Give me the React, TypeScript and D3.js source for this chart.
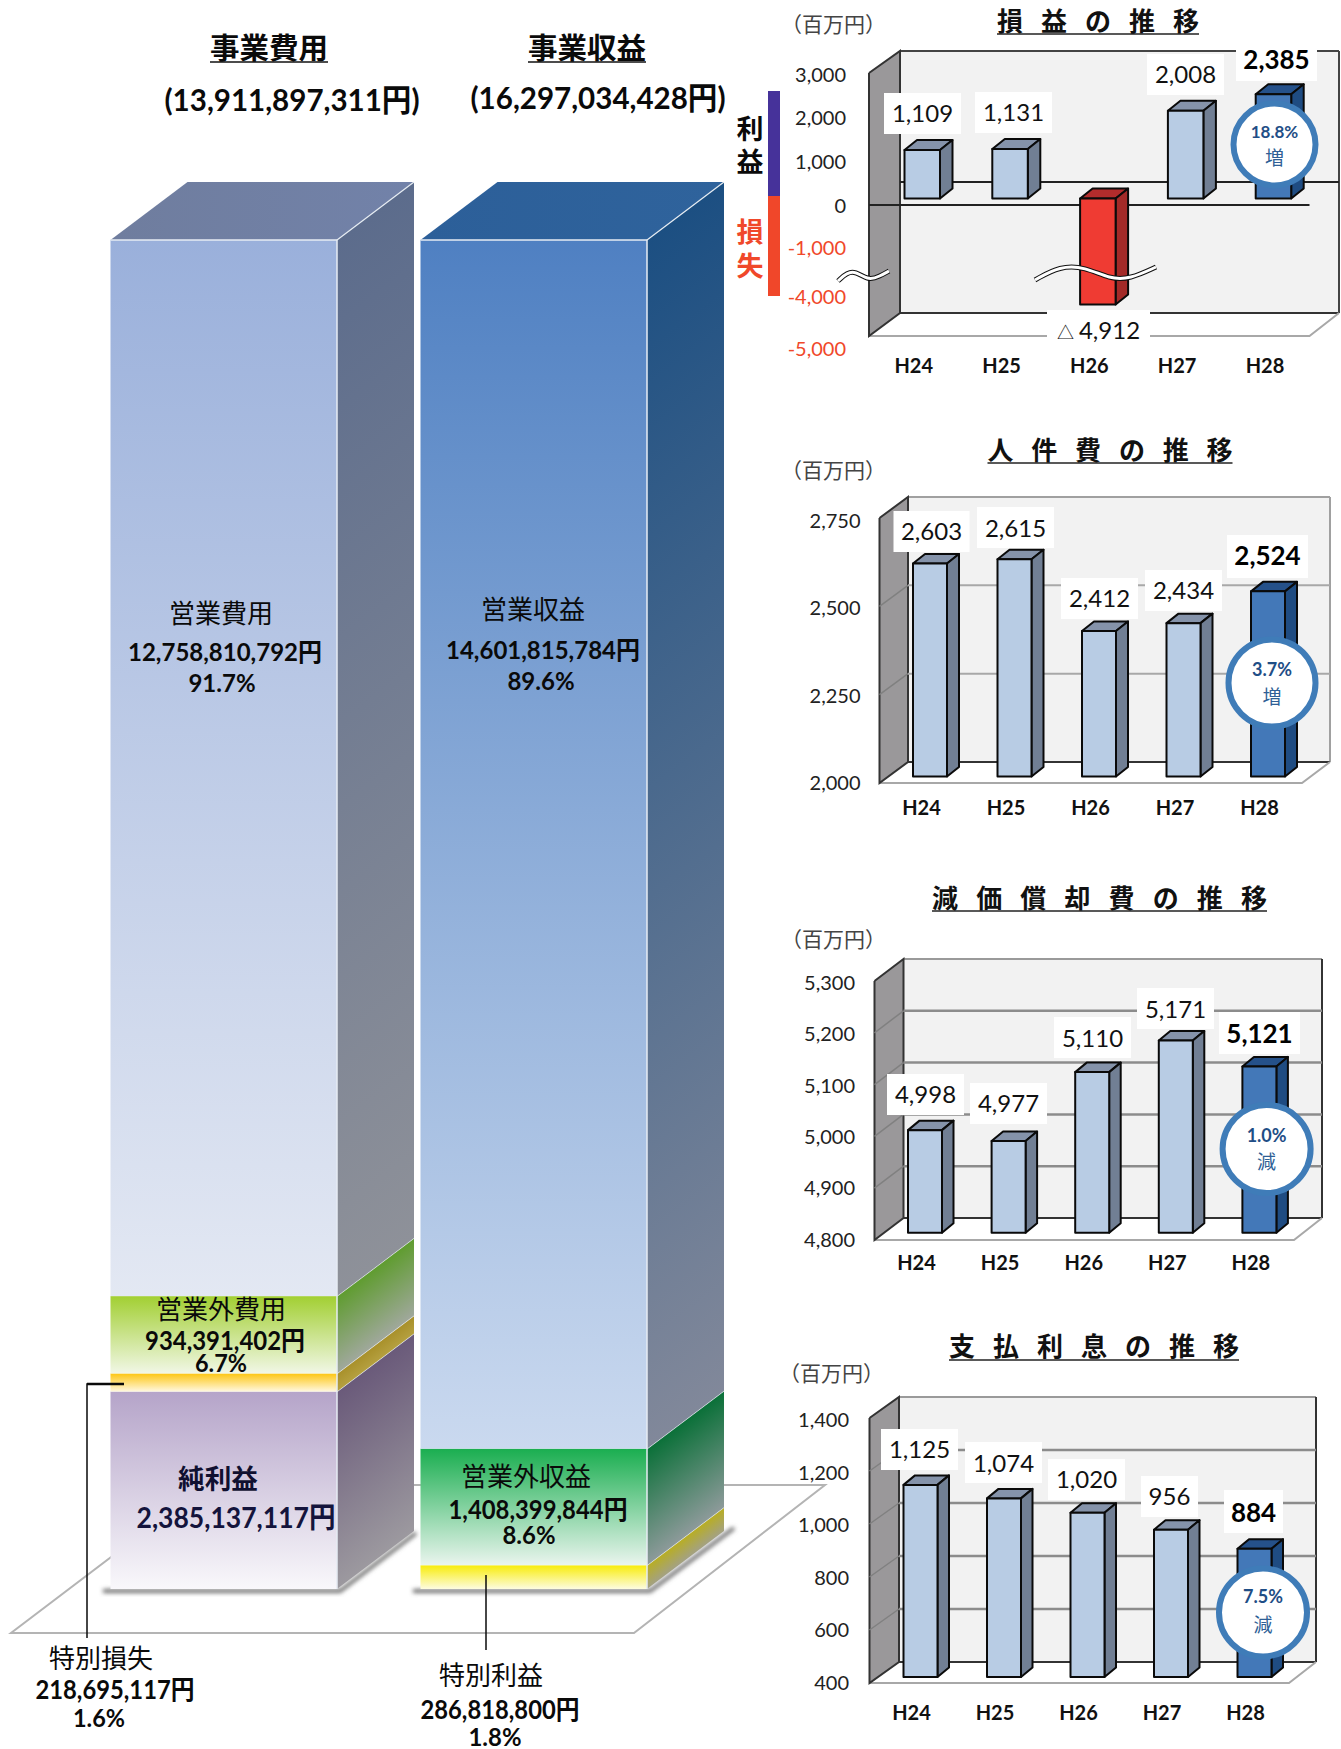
import React from "react";
import * as d3 from "d3";

// ---------- data ----------
const years = ["H24", "H25", "H26", "H27", "H28"];
const profitValues = [1109, 1131, -4912, 2008, 2385];
const personnelValues = [2603, 2615, 2412, 2434, 2524];
const depreciationValues = [4998, 4977, 5110, 5171, 5121];
const interestValues = [1125, 1074, 1020, 956, 884];
const profitTicks = [3000, 2000, 1000, 0, -1000, -4000, -5000];
const personnelTicks = [2750, 2500, 2250, 2000];
const depreciationTicks = [5300, 5200, 5100, 5000, 4900, 4800];
const interestTicks = [1400, 1200, 1000, 800, 600, 400];

const columnTotal = 16297034428;
const expenseSegments = [
  { name: "純利益", value: 2385137117, share: "" },
  { name: "特別損失", value: 218695117, share: "1.6%" },
  { name: "営業外費用", value: 934391402, share: "6.7%" },
  { name: "営業費用", value: 12758810792, share: "91.7%" },
];
const revenueSegments = [
  { name: "特別利益", value: 286818800, share: "1.8%" },
  { name: "営業外収益", value: 1408399844, share: "8.6%" },
  { name: "営業収益", value: 14601815784, share: "89.6%" },
];

// ---------- styling / layout ----------
const LAT = 'Lato, "Noto Sans CJK JP", sans-serif';
const CJK = '"Noto Sans CJK JP", sans-serif';
const comma = (v: number) => d3.format(",")(v).replace("−", "-");
const yen = (v: number) => comma(v) + "円";

const expenseColors = [
  { f: ["#b5a4c9", "#f9f8fb"], s: ["#6a5a7a", "#9c999f"] },
  { f: ["#fdc613", "#fff8e0"], s: ["#a8902a", "#b5a040"] },
  { f: ["#a2cf32", "#f1f7e6"], s: ["#5f9c2f", "#a0a89c"] },
  { f: ["#9ab0db", "#e3e8f3"], s: ["#5c6c8c", "#8e9199"] },
];
const revenueColors = [
  { f: ["#f8ec0a", "#fdfce0"], s: ["#b8ae22", "#a3a184"] },
  { f: ["#1aae50", "#eaf5ee"], s: ["#0a7038", "#8d9a9a"] },
  { f: ["#4f80c2", "#cad9ef"], s: ["#1c4f82", "#81889a"] },
];

const colY = d3.scaleLinear().domain([0, columnTotal]).range([1589, 240]);
const DEPTH_X = 77;
const DEPTH_Y = 58;

type TextSpec = [string, number, number, number, number?, number?, string?];
// text, centre x, baseline, size, weight, textLength, colour
const columnTexts: TextSpec[] = [
  ["事業費用", 269, 59, 29, 700, 118],
  ["事業収益", 587, 59, 29, 700, 118],
  [`(${comma(13911897311)}円)`, 292, 111, 31, 700, 255],
  [`(${comma(columnTotal)}円)`, 598, 109, 31, 700, 255],
  [expenseSegments[3].name, 221, 623, 26, 400, 104],
  [yen(expenseSegments[3].value), 225, 661, 25, 700, 194],
  [expenseSegments[3].share, 222, 692, 24, 700],
  [revenueSegments[2].name, 533, 619, 26, 400, 104],
  [yen(revenueSegments[2].value), 543, 659, 25, 700, 194],
  [revenueSegments[2].share, 541, 690, 24, 700],
  [expenseSegments[2].name, 221, 1319, 26, 400, 130],
  [yen(expenseSegments[2].value), 225, 1350, 26, 700, 160],
  [expenseSegments[2].share, 221, 1372, 24, 700, 52],
  [expenseSegments[0].name, 218, 1489, 27, 700, 80, "#101030"],
  [yen(expenseSegments[0].value), 236, 1528, 29, 700, 199, "#14143c"],
  [revenueSegments[1].name, 526, 1486, 26, 400, 130],
  [yen(revenueSegments[1].value), 538, 1519, 26, 700, 179],
  [revenueSegments[1].share, 529, 1544, 24, 700, 53],
  [expenseSegments[1].name, 101, 1668, 26, 400, 104],
  [yen(expenseSegments[1].value), 115, 1699, 26, 700, 159],
  [expenseSegments[1].share, 99, 1727, 24, 700, 52],
  [revenueSegments[0].name, 491, 1685, 26, 400, 104],
  [yen(revenueSegments[0].value), 500, 1719, 26, 700, 159],
  [revenueSegments[0].share, 495, 1746, 24, 700, 53],
];

const panels = [
  {
    id: "p1",
    title: "損益の推移", titleX: 997, titleW: 202, titleB: 31, underlineY: 34,
    unitX: 781, unitB: 32,
    values: profitValues, ticks: profitTicks,
    wall: { xF: 869, xB: 900, xR: 1339, xFR: 1309.5, topF: 73, topB: 51, botF: 336, botB: 313 },
    // bars sit on the zero of a broken scale; ticks have their own spacing
    barDomain: [-5000, -4000, -1000, 0, 3000], barRange: [308.4, 264.7, 242.2, 198.5, 67.4],
    tickDomain: [-5000, -4000, -1000, 0, 1000, 2000, 3000], tickRange: [349, 297, 248, 206, 162, 118, 75],
    labelRange: [349, 297, 248, 206, 162, 118, 75],
    base: 0,
    grid: [] as number[],
    x0: 904.5, step: 87.8, w: 35.5, dx: 12.5, dy: 10, tickX: 846, catB: 373, catShift: -8.5,
    topStroke: "#444", rightStroke: "#444", gridStroke: "#444", gridW: 2,
    labels: [
      { x: 884, y: 93, w: 77, h: 41, b: 122 },
      { x: 975, y: 92, w: 77, h: 41, b: 121 },
      { x: 1047, y: 310, w: 103, h: 33, b: 339 },
      { x: 1147, y: 54, w: 77, h: 41, b: 83 },
      { x: 1236, y: 48, w: 81, h: 33, b: 69 },
    ],
    badge: { cx: 1274.5, cy: 144.5, r: 41, pct: "18.8%", word: "増", pctY: 132, wordY: 158, size: 17 },
  },
  {
    id: "p2",
    title: "人件費の推移", titleX: 987.5, titleW: 245, titleB: 460, underlineY: 463,
    unitX: 781, unitB: 478,
    values: personnelValues, ticks: personnelTicks,
    wall: { xF: 879.5, xB: 908, xR: 1330, xFR: 1302, topF: 518, topB: 497, botF: 783, botB: 762 },
    barDomain: [2000, 2750], barRange: [776.5, 511.5],
    tickDomain: [2000, 2750], tickRange: [783, 518],
    labelRange: [783, 520.5],
    base: 2000,
    grid: [2250, 2500],
    x0: 913, step: 84.5, w: 34, dx: 12, dy: 9.5, tickX: 860.5, catB: 815, catShift: -8.5,
    topStroke: "#a0a0a0", rightStroke: "#a0a0a0", gridStroke: "#a8a8a8", gridW: 2,
    labels: [
      { x: 893.5, y: 511, w: 76, h: 41, b: 540 },
      { x: 977, y: 507, w: 77, h: 41, b: 537 },
      { x: 1061, y: 578, w: 77, h: 41, b: 607 },
      { x: 1145, y: 570, w: 77, h: 41, b: 599 },
      { x: 1227, y: 535, w: 81, h: 43, b: 565 },
    ],
    badge: { cx: 1272, cy: 683, r: 43.5, pct: "3.7%", word: "増", pctY: 670, wordY: 697, size: 18 },
  },
  {
    id: "p3",
    title: "減価償却費の推移", titleX: 932, titleW: 335, titleB: 908, underlineY: 911,
    unitX: 781, unitB: 947,
    values: depreciationValues, ticks: depreciationTicks,
    wall: { xF: 874.5, xB: 903.5, xR: 1322, xFR: 1294, topF: 981, topB: 959, botF: 1240, botB: 1218 },
    barDomain: [4800, 5300], barRange: [1232.7, 973.7],
    tickDomain: [4800, 5300], tickRange: [1240, 981],
    labelRange: [1239.5, 983],
    base: 4800,
    grid: [4900, 5000, 5100, 5200],
    x0: 908, step: 83.6, w: 34, dx: 11.5, dy: 9.5, tickX: 855, catB: 1270, catShift: -8.5,
    topStroke: "#9a9a9a", rightStroke: "#333", gridStroke: "#8c8c8c", gridW: 2.5,
    labels: [
      { x: 887, y: 1074, w: 77, h: 41, b: 1103 },
      { x: 970, y: 1083, w: 77, h: 41, b: 1112 },
      { x: 1054, y: 1017, w: 77, h: 41, b: 1047 },
      { x: 1137, y: 988, w: 77, h: 41, b: 1018 },
      { x: 1219, y: 1012, w: 81, h: 42, b: 1043 },
    ],
    badge: { cx: 1266.6, cy: 1149, r: 44, pct: "1.0%", word: "減", pctY: 1136, wordY: 1162, size: 18 },
  },
  {
    id: "p4",
    title: "支払利息の推移", titleX: 949, titleW: 290, titleB: 1356, underlineY: 1360,
    unitX: 779, unitB: 1381,
    values: interestValues, ticks: interestTicks,
    wall: { xF: 869.5, xB: 899, xR: 1316, xFR: 1289, topF: 1418, topB: 1397, botF: 1683, botB: 1662 },
    barDomain: [400, 1400], barRange: [1677, 1412],
    tickDomain: [400, 1400], tickRange: [1683, 1418],
    labelRange: [1683, 1420],
    base: 400,
    grid: [600, 800, 1000, 1200],
    x0: 903.5, step: 83.5, w: 34, dx: 11.5, dy: 9.5, tickX: 849, catB: 1720, catShift: -9,
    topStroke: "#9a9a9a", rightStroke: "#333", gridStroke: "#8c8c8c", gridW: 2.5,
    labels: [
      { x: 881, y: 1429, w: 77, h: 41, b: 1458 },
      { x: 965, y: 1442, w: 77, h: 41, b: 1472 },
      { x: 1048, y: 1459, w: 77, h: 41, b: 1488 },
      { x: 1141, y: 1476, w: 57, h: 41, b: 1505 },
      { x: 1224, y: 1490, w: 59, h: 43, b: 1522 },
    ],
    badge: { cx: 1263, cy: 1612.5, r: 44, pct: "7.5%", word: "減", pctY: 1597, wordY: 1625, size: 18 },
  },
];

const poly = (pts: number[][]) => "M" + pts.map((p) => p.join(",")).join("L") + "Z";
const waveLine = d3.line<number[]>().curve(d3.curveBasis);

function Column({ id, x0, x1, segments, colors }: any) {
  let acc = 0;
  const parts = segments.map((s: any, i: number) => {
    const yBot = colY(acc);
    acc += s.value;
    const yTop = colY(acc);
    return { i, yBot, yTop, c: colors[i] };
  });
  const top = parts[parts.length - 1].yTop;
  return (
    <g>
      <defs>
        {parts.map((p: any) => {
          const h = p.yBot - p.yTop;
          return (
            <React.Fragment key={p.i}>
              <linearGradient id={`${id}f${p.i}`} x1="0" y1="0" x2="0" y2="1">
                <stop offset="0" stopColor={p.c.f[0]} />
                <stop offset="1" stopColor={p.c.f[1]} />
              </linearGradient>
              <linearGradient id={`${id}s${p.i}`} gradientUnits="userSpaceOnUse"
                x1={x1} y1={p.yTop} x2={x1 + 0.48 * h} y2={p.yTop + 0.64 * h}>
                <stop offset="0" stopColor={p.c.s[0]} />
                <stop offset="1" stopColor={p.c.s[1]} />
              </linearGradient>
            </React.Fragment>
          );
        })}
      </defs>
      <path d={poly([[x0, top], [x0 + DEPTH_X, top - DEPTH_Y], [x1 + DEPTH_X, top - DEPTH_Y], [x1, top]])}
        fill={`url(#${id}top)`} />
      {parts.map((p: any) => (
        <g key={p.i}>
          <rect x={x0} y={p.yTop} width={x1 - x0} height={p.yBot - p.yTop} fill={`url(#${id}f${p.i})`} />
          <path d={poly([[x1, p.yTop], [x1 + DEPTH_X, p.yTop - DEPTH_Y], [x1 + DEPTH_X, p.yBot - DEPTH_Y], [x1, p.yBot]])}
            fill={`url(#${id}s${p.i})`} />
          <line x1={x1} y1={p.yTop} x2={x1 + DEPTH_X} y2={p.yTop - DEPTH_Y} stroke="#e6ecf2" strokeWidth={1.2} />
        </g>
      ))}
      <path d={`M${x0},${top}L${x1},${top}L${x1},${colY(0)}`} fill="none" stroke="#e6ecf4" strokeWidth={1.5} />
    </g>
  );
}

function Panel({ p }: any) {
  const yBar = d3.scaleLinear().domain(p.barDomain).range(p.barRange);
  const yTick = d3.scaleLinear().domain(p.tickDomain).range(p.tickRange);
  const yLabel = d3.scaleLinear().domain(p.tickDomain).range(p.labelRange);
  const gap = p.step - p.w;
  const x = d3.scaleBand().domain(years)
    .range([p.x0 - gap / 2, p.x0 - gap / 2 + 5 * p.step])
    .paddingInner(gap / p.step).paddingOuter(gap / p.step / 2);
  const W = p.wall;
  const depthWallY = W.botF - W.botB;
  const fs = 26;
  const chars = Array.from(p.title as string);
  const pitch = (p.titleW - fs) / (chars.length - 1);
  const isProfit = p.id === "p1";
  return (
    <g>
      {/* title */}
      <text x={chars.map((_, i) => p.titleX + i * pitch).join(" ")} y={p.titleB} fontFamily={CJK} fontSize={fs} fontWeight={700} fill="#111">{p.title}</text>
      <line x1={p.titleX} x2={p.titleX + p.titleW} y1={p.underlineY} y2={p.underlineY} stroke="#222" strokeWidth={1.5} />
      <text x={p.unitX} y={p.unitB} fontFamily={CJK} fontSize={21} fill="#444">（百万円）</text>
      {/* back wall, floor, side wall */}
      <rect x={W.xB} y={W.topB} width={W.xR - W.xB} height={W.botB - W.topB} fill="#f2f2f2" />
      <path d={poly([[W.xF, W.botF], [W.xFR, W.botF], [W.xR, W.botB], [W.xB, W.botB]])} fill="#fff" />
      <line x1={W.xB} x2={W.xR} y1={W.topB} y2={W.topB} stroke={p.topStroke} strokeWidth={2} />
      <line x1={W.xR} x2={W.xR} y1={W.topB} y2={W.botB} stroke={p.rightStroke} strokeWidth={2} />
      <line x1={W.xB} x2={W.xR} y1={W.botB} y2={W.botB} stroke="#333" strokeWidth={2} />
      <path d={`M${W.xF},${W.botF}L${W.xFR},${W.botF}L${W.xR},${W.botB}`} fill="none" stroke="#a8a8a8" strokeWidth={2} />
      <path d={poly([[W.xF, W.topF], [W.xB, W.topB], [W.xB, W.botB], [W.xF, W.botF]])} fill="#9a989a" />
      <path d={`M${W.xF},${W.topF}L${W.xF},${W.botF}L${W.xB},${W.botB}L${W.xB},${W.topB}L${W.xF},${W.topF}`} fill="none" stroke="#333" strokeWidth={2} />
      {/* grid lines */}
      {p.grid.map((g: number) => {
        const yF = yTick(g);
        return (
          <g key={g}>
            <line x1={W.xF} y1={yF} x2={W.xB} y2={yF - depthWallY} stroke="#808080" strokeWidth={1.5} />
            <line x1={W.xB} y1={yF - depthWallY} x2={W.xR} y2={yF - depthWallY} stroke={p.gridStroke} strokeWidth={p.gridW} />
          </g>
        );
      })}
      {isProfit && (
        <g>
          <line x1={W.xB} y1={182} x2={W.xR} y2={182} stroke="#222" strokeWidth={2} />
          <line x1={W.xF} y1={yTick(0) - 1} x2={W.xFR} y2={yTick(0) - 1} stroke="#222" strokeWidth={2} />
        </g>
      )}
      {/* bars */}
      {p.values.map((v: number, i: number) => {
        const bx = x(years[i])!;
        const w = x.bandwidth();
        const y0 = yBar(p.base);
        const yv = yBar(v);
        const yt = Math.min(y0, yv);
        const yb = Math.max(y0, yv);
        const highlight = i === 4;
        const neg = v < 0;
        const front = neg ? "#ef3b33" : highlight ? "#4378b8" : "#b8cce4";
        const side = neg ? "#a32a28" : highlight ? "#1f4c82" : "#717f94";
        const cap = neg ? "#b22c2c" : highlight ? "#25518a" : "#8593aa";
        return (
          <g key={i} stroke="#0a0a0a" strokeWidth={2} strokeLinejoin="round">
            <path d={poly([[bx, yt], [bx + p.dx, yt - p.dy], [bx + w + p.dx, yt - p.dy], [bx + w, yt]])} fill={cap} />
            <path d={poly([[bx + w, yt], [bx + w + p.dx, yt - p.dy], [bx + w + p.dx, yb - p.dy], [bx + w, yb]])} fill={side} />
            <rect x={bx} y={yt} width={w} height={yb - yt} fill={front} />
          </g>
        );
      })}
      {/* axis-break waves */}
      {isProfit && [
        [[1035, 280], [1060, 266], [1085, 267], [1110, 279], [1130, 279], [1156, 267]],
        [[838, 281], [852, 268], [868, 281], [880, 276], [889, 271]],
      ].map((pts, i) => (
        <g key={i} fill="none">
          <path d={waveLine(pts as any)!} stroke="#111" strokeWidth={5} />
          <path d={waveLine(pts as any)!} stroke="#fff" strokeWidth={3} />
        </g>
      ))}
      {/* data labels */}
      {p.values.map((v: number, i: number) => {
        const b = p.labels[i];
        const bold = i === 4;
        return (
          <g key={i}>
            <rect x={b.x} y={b.y} width={b.w} height={b.h} fill="#fff" />
            <text x={b.x + b.w / 2} y={b.b} textAnchor="middle" fontFamily={LAT} fontSize={bold ? 26 : 24}
              fontWeight={bold ? 700 : 400} fill={bold ? "#000" : "#111"}>
              {v < 0 ? <><tspan fontSize={17}>△</tspan><tspan dx={5}>{comma(-v)}</tspan></> : comma(v)}
            </text>
          </g>
        );
      })}
      {/* tick labels */}
      {p.ticks.map((t: number) => (
        <text key={t} x={p.tickX} y={yLabel(t) + 7} textAnchor="end" fontFamily={LAT} fontSize={20}
          fill={t < 0 ? "#f0482a" : "#222"}>{comma(t)}</text>
      ))}
      {/* category labels */}
      {years.map((c) => (
        <text key={c} x={x(c)! + x.bandwidth() / 2 + p.catShift} y={p.catB} textAnchor="middle" fontFamily={LAT}
          fontSize={20} fontWeight={700} fill="#111">{c}</text>
      ))}
      {/* change badge */}
      <circle cx={p.badge.cx} cy={p.badge.cy} r={p.badge.r} fill="#fff" stroke="#3f7cb8" strokeWidth={6} />
      <text x={p.badge.cx} y={p.badge.pctY + 6} textAnchor="middle" fontFamily={LAT} fontSize={p.badge.size} fontWeight={700} fill="#1f4e86">{p.badge.pct}</text>
      <text x={p.badge.cx} y={p.badge.wordY + 7} textAnchor="middle" fontFamily={CJK} fontSize={19} fill="#2f5f96">{p.badge.word}</text>
    </g>
  );
}

export default function App() {
  return (
    <svg width={1341} height={1749} viewBox="0 0 1341 1749"
      style={{ position: "absolute", left: 0, top: 0, display: "block", background: "#fff" }}>
      <defs>
        <filter id="soft" x="-10%" y="-10%" width="120%" height="120%"><feGaussianBlur stdDeviation="2" /></filter>
        <linearGradient id="leftColtop" x1="0" y1="0" x2="1" y2="0">
          <stop offset="0" stopColor="#6f7d9e" /><stop offset="1" stopColor="#7282a9" />
        </linearGradient>
        <linearGradient id="rightColtop" x1="0" y1="0" x2="1" y2="0">
          <stop offset="0" stopColor="#2c5f99" /><stop offset="1" stopColor="#2f639c" />
        </linearGradient>
      </defs>
      {/* floor */}
      <path d={poly([[11, 1633], [634, 1633], [825, 1485], [206, 1485]])} fill="#fff" stroke="#b4b4b4" strokeWidth={2} />
      {/* column shadows */}
      <path d="M103,1591L340,1591L416,1533" fill="none" stroke="#707070" strokeWidth={4} filter="url(#soft)" />
      <path d="M413,1591L650,1591L734,1528" fill="none" stroke="#707070" strokeWidth={4} filter="url(#soft)" />
      <Column id="leftCol" x0={110.5} x1={337} segments={expenseSegments} colors={expenseColors} />
      <Column id="rightCol" x0={420.5} x1={647} segments={revenueSegments} colors={revenueColors} />
      {/* column texts */}
      {columnTexts.map(([t, cx, y, size, weight, len, color], i) => (
        <text key={i} x={cx} y={y} textAnchor="middle" fontFamily={LAT} fontSize={size} fontWeight={weight ?? 400}
          fill={color ?? "#0a0a0a"}
          {...(len ? { textLength: len, lengthAdjust: "spacingAndGlyphs" } : {})}>{t}</text>
      ))}
      <line x1={210} x2={328} y1={62} y2={62} stroke="#111" strokeWidth={1.5} />
      <line x1={528} x2={646} y1={62} y2={62} stroke="#111" strokeWidth={1.5} />
      {/* leaders */}
      <path d="M124,1384L87,1384L87,1638" fill="none" stroke="#0a0a0a" strokeWidth={1.5} />
      <line x1={87} x2={124} y1={1384} y2={1384} stroke="#0a0a0a" strokeWidth={2.5} />
      <line x1={486} x2={486} y1={1575} y2={1650} stroke="#0a0a0a" strokeWidth={1.5} />
      {/* profit / loss key */}
      <rect x={768} y={91} width={12} height={105} fill="#46329a" />
      <rect x={768} y={196} width={12} height={100} fill="#f0472a" />
      <text x={750} y={139} textAnchor="middle" fontFamily={CJK} fontSize={27} fontWeight={700} fill="#0a0a0a">利</text>
      <text x={750} y={172} textAnchor="middle" fontFamily={CJK} fontSize={27} fontWeight={700} fill="#0a0a0a">益</text>
      <text x={750} y={242} textAnchor="middle" fontFamily={CJK} fontSize={27} fontWeight={700} fill="#f0482a">損</text>
      <text x={750} y={276} textAnchor="middle" fontFamily={CJK} fontSize={27} fontWeight={700} fill="#f0482a">失</text>
      {panels.map((p) => <Panel key={p.id} p={p} />)}
    </svg>
  );
}
